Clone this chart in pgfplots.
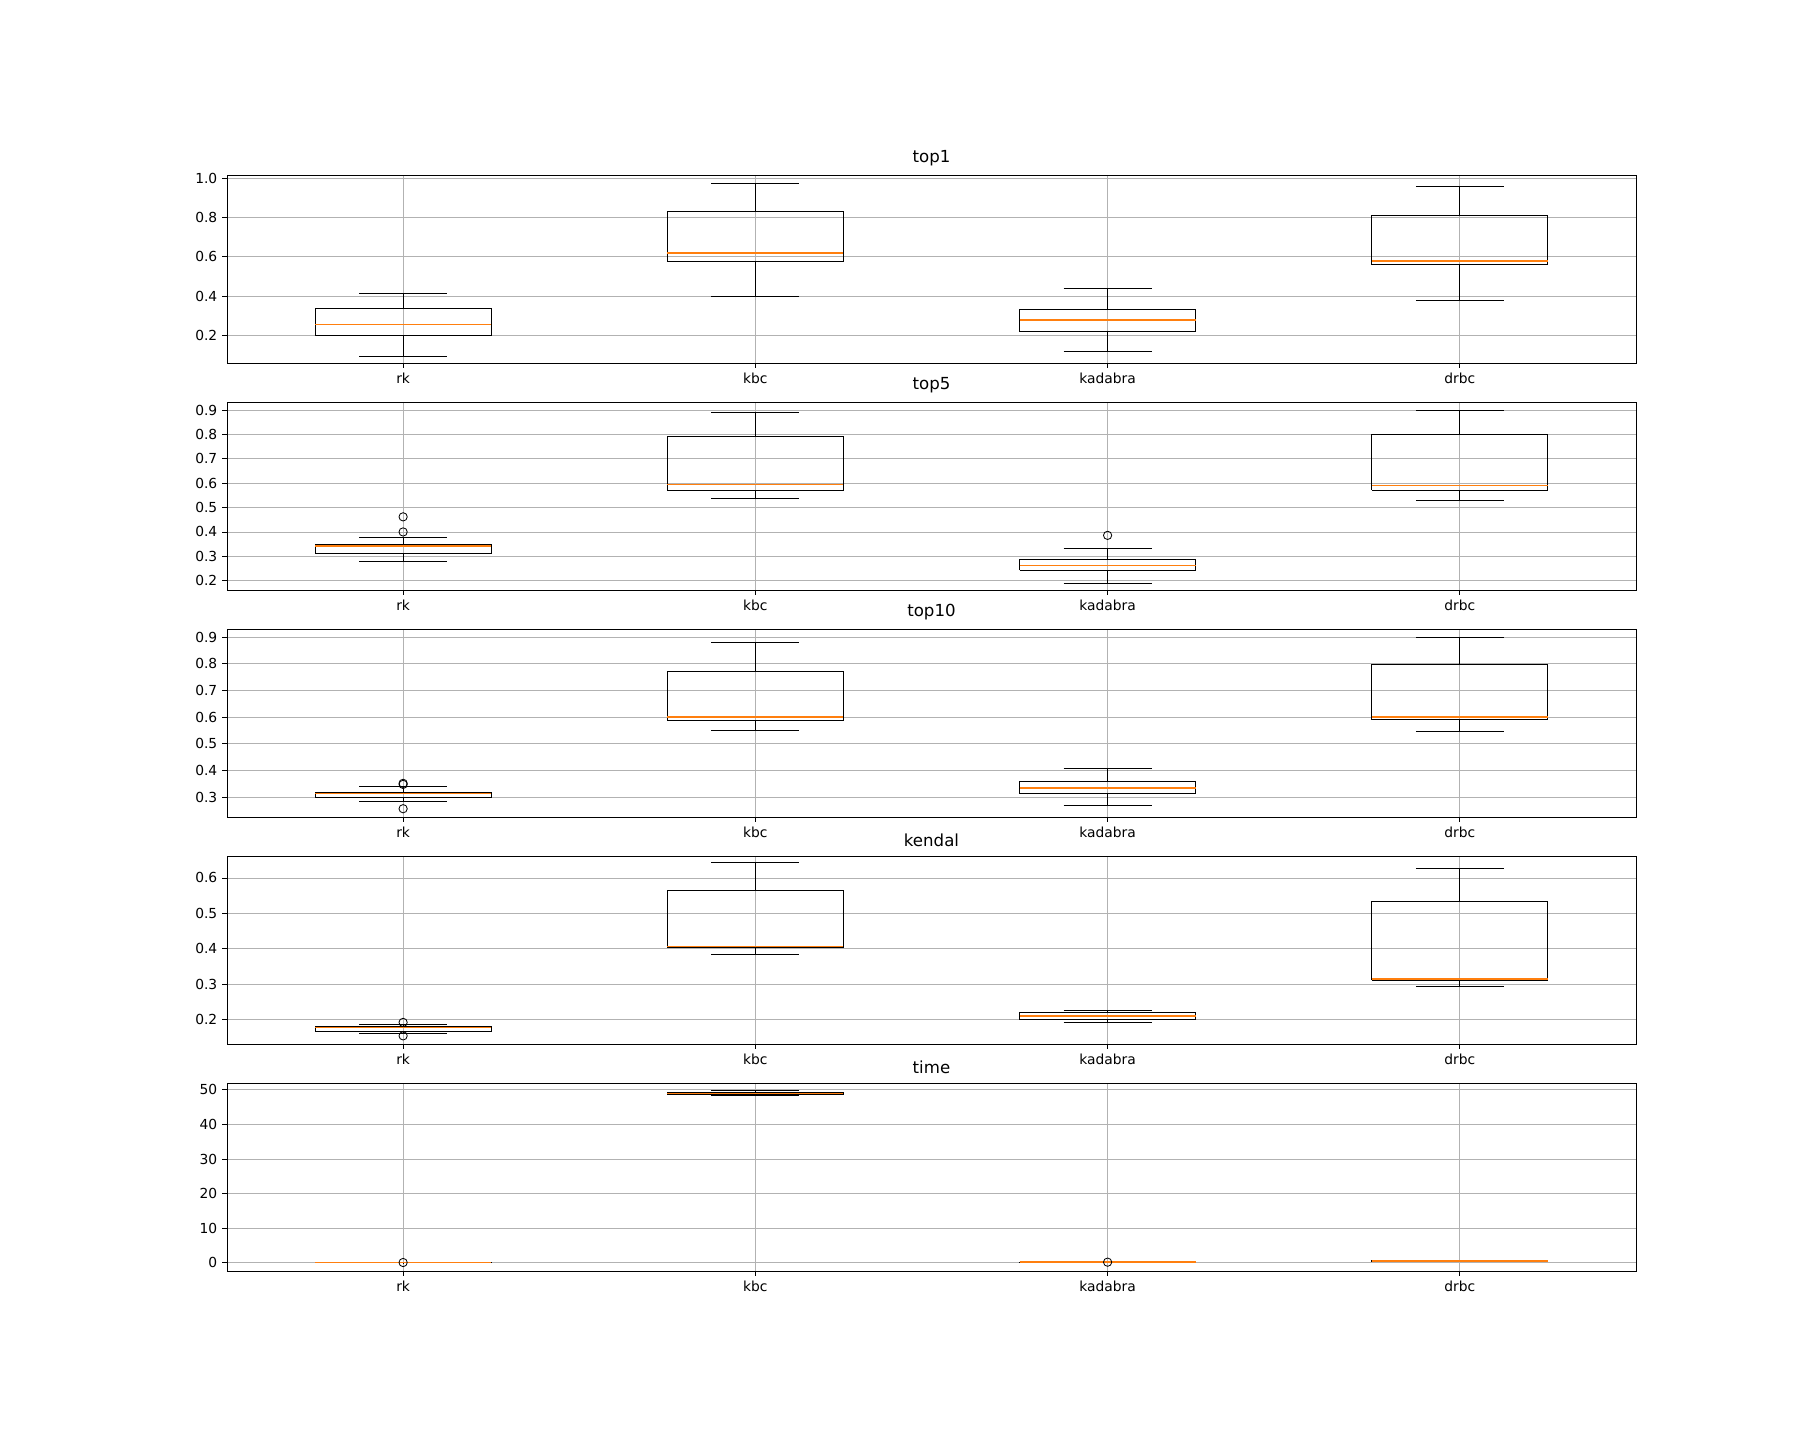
\documentclass[border=0pt]{standalone}
\usepackage{pgfplots}
\pgfplotsset{compat=1.18}
\usepackage{fontspec}
\setmainfont{DejaVu Sans}
\definecolor{mplorange}{HTML}{FF7F0E}
\pgfplotsset{
  panel/.style={
    scale only axis, width=14.09in, height=1.88in, anchor=north west,
    xmin=0.5, xmax=4.5, xtick={1,2,3,4}, xticklabels={rk,kbc,kadabra,drbc},
    grid=major, major grid style={color=black!30, line width=0.6pt},
    tick align=outside, major tick length=3.5pt, tick style={black, line width=0.6pt},
    xtick pos=bottom, ytick pos=left,
    axis line style={line width=0.6pt},
    ticklabel style={font=\fontsize{10}{12}\selectfont},
    /pgf/number format/assume math mode=true,
    title style={font=\fontsize{12}{14}\selectfont, yshift=-3pt},
  },
  dec/.style={yticklabel style={/pgf/number format/.cd, fixed, fixed zerofill, precision=1}},
}
% #1 position, #2 low whisker, #3 q1, #4 median, #5 q3, #6 high whisker
\newcommand{\bp}[6]{%
\addplot[black, line width=0.6pt, no marks, x filter/.expression={x+#1}] coordinates {(-0.25,#3)(0.25,#3)(0.25,#5)(-0.25,#5)(-0.25,#3)};
\addplot[black, line width=0.6pt, no marks, x filter/.expression={x+#1}] coordinates {(0,#2)(0,#3)};
\addplot[black, line width=0.6pt, no marks, x filter/.expression={x+#1}] coordinates {(0,#5)(0,#6)};
\addplot[black, line width=0.6pt, no marks, x filter/.expression={x+#1}] coordinates {(-0.125,#2)(0.125,#2)};
\addplot[black, line width=0.6pt, no marks, x filter/.expression={x+#1}] coordinates {(-0.125,#6)(0.125,#6)};
\addplot[mplorange, line width=1pt, no marks, x filter/.expression={x+#1}] coordinates {(-0.25,#4)(0.25,#4)};
}
\newcommand{\outl}[1]{\addplot[only marks, mark=o, mark size=3pt, mark options={black, line width=0.6pt}] coordinates {#1};}
\begin{document}
\begin{tikzpicture}
\path (0,0) rectangle (18in,14.4in);
% top1
\begin{axis}[panel, dec, at={(2.27in,12.65in)}, title={top1}, ymin=0.058, ymax=1.018, ytick={0.2,0.4,0.6,0.8,1.0}]
\bp{1}{0.093}{0.200}{0.253}{0.336}{0.414}
\bp{2}{0.400}{0.578}{0.620}{0.834}{0.976}
\bp{3}{0.117}{0.218}{0.277}{0.330}{0.437}
\bp{4}{0.376}{0.560}{0.578}{0.810}{0.960}
\end{axis}
% top5
\begin{axis}[panel, dec, at={(2.27in,10.38in)}, title={top5}, ymin=0.162, ymax=0.933, ytick={0.2,0.3,0.4,0.5,0.6,0.7,0.8,0.9}]
\bp{1}{0.281}{0.314}{0.343}{0.348}{0.376}
\outl{(1,0.400)(1,0.462)}
\bp{2}{0.538}{0.571}{0.595}{0.790}{0.890}
\bp{3}{0.190}{0.243}{0.262}{0.286}{0.333}
\outl{(3,0.386)}
\bp{4}{0.529}{0.571}{0.590}{0.800}{0.900}
\end{axis}
% top10
\begin{axis}[panel, dec, at={(2.27in,8.11in)}, title={top10}, ymin=0.226, ymax=0.930, ytick={0.3,0.4,0.5,0.6,0.7,0.8,0.9}]
\bp{1}{0.283}{0.300}{0.313}{0.317}{0.339}
\outl{(1,0.348)(1,0.352)(1,0.257)}
\bp{2}{0.552}{0.587}{0.600}{0.770}{0.878}
\bp{3}{0.270}{0.313}{0.335}{0.361}{0.409}
\bp{4}{0.548}{0.591}{0.600}{0.796}{0.900}
\end{axis}
% kendal
\begin{axis}[panel, dec, at={(2.27in,5.84in)}, title={kendal}, ymin=0.131, ymax=0.662, ytick={0.2,0.3,0.4,0.5,0.6}]
\bp{1}{0.161}{0.167}{0.177}{0.180}{0.187}
\outl{(1,0.192)(1,0.154)}
\bp{2}{0.384}{0.403}{0.407}{0.564}{0.643}
\bp{3}{0.193}{0.200}{0.210}{0.220}{0.226}
\bp{4}{0.295}{0.311}{0.315}{0.534}{0.626}
\end{axis}
% time
\begin{axis}[panel, at={(2.27in,3.57in)}, title={time}, ymin=-2.35, ymax=52.0, ytick={0,10,20,30,40,50}]
\bp{1}{0.05}{0.08}{0.10}{0.12}{0.15}
\outl{(1,0.1)}
\bp{2}{48.3}{48.6}{48.9}{49.3}{49.8}
\bp{3}{0.12}{0.16}{0.2}{0.24}{0.28}
\outl{(3,0.2)}
\bp{4}{0.3}{0.4}{0.5}{0.6}{0.7}
\end{axis}
\end{tikzpicture}
\end{document}
